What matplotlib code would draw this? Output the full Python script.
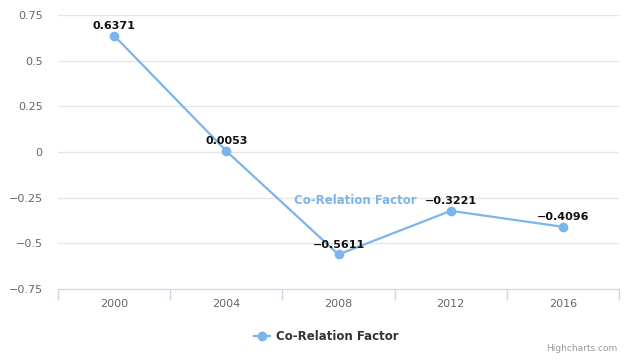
import numpy as np
import matplotlib.pyplot as plt
from matplotlib.lines import Line2D

# Correlation factor per election year
years = ['2000', '2004', '2008', '2012', '2016']
factor = [0.6371, 0.0053, -0.5611, -0.3221, -0.4096]
y_ticks = [-0.75, -0.5, -0.25, 0, 0.25, 0.5, 0.75]
y_tick_labels = ['\u22120.75', '\u22120.5', '\u22120.25', '0', '0.25', '0.5', '0.75']
series_name = 'Co\u2010Relation Factor'

line_color = '#7cb5ec'

fig = plt.figure(figsize=(6.27, 3.6), dpi=100)
ax = fig.add_axes([58 / 627, 1 - 289 / 360, (619 - 58) / 627, (289 - 15) / 360])

x = np.arange(len(years))
ax.plot(x, factor, color=line_color, lw=1.6, marker='o', ms=6, zorder=3)

for xi, v in zip(x, factor):
    txt = f'{v:.4f}'.replace('-', '\u2212')
    ax.annotate(txt, (xi, v), xytext=(0, 3.5), textcoords='offset points',
                ha='center', va='bottom', fontsize=8, fontweight='bold', color='#111111')

# series name drawn beside the line
ax.text(1.6, -0.263, series_name, color=line_color, fontsize=8.5, fontweight='bold',
        ha='left', va='center')

ax.set_xlim(-0.5, len(years) - 0.5)
ax.set_ylim(-0.75, 0.75)

ax.set_yticks(y_ticks)
ax.set_yticklabels(y_tick_labels)
ax.yaxis.grid(True, color='#e6e6e6', lw=1)
ax.set_axisbelow(True)
ax.tick_params(axis='y', length=0, pad=11, labelsize=8, labelcolor='#666666')

# category ticks sit on the boundaries, labels in the middle
ax.set_xticks(np.arange(-0.5, len(years), 1.0))
ax.set_xticklabels([])
ax.set_xticks(x, minor=True)
ax.set_xticklabels(years, minor=True)
ax.tick_params(axis='x', which='major', length=8, color='#ccd6eb', width=1)
ax.tick_params(axis='x', which='minor', length=0, pad=7, labelsize=8, labelcolor='#666666')

for side in ['top', 'right', 'left']:
    ax.spines[side].set_visible(False)
ax.spines['bottom'].set_color('#ccd6eb')

handle = Line2D([], [], color=line_color, lw=1.6, marker='o', ms=6)
fig.legend([handle], [series_name], loc='center', bbox_to_anchor=(0.52, 1 - 337 / 360),
           frameon=False, prop={'size': 8.5, 'weight': 'bold'}, labelcolor='#333333',
           handlelength=1.4, handletextpad=0.5)

fig.text(0.985, 0.02, 'Highcharts.com', ha='right', va='bottom', fontsize=6.5, color='#999999')

fig.savefig('out.png', dpi=100)
